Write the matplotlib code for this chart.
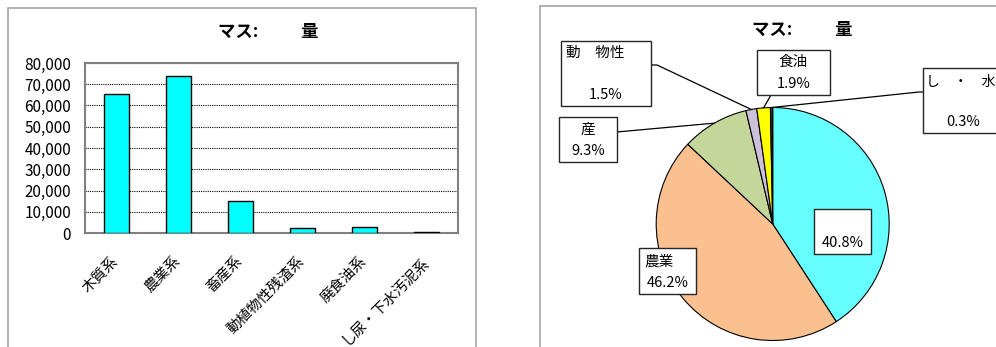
import numpy as np
import matplotlib
matplotlib.use('Agg')
import matplotlib.pyplot as plt
from matplotlib.patches import Rectangle
from matplotlib.lines import Line2D
from matplotlib.ticker import FuncFormatter

plt.rcParams['font.family'] = ['Noto Sans CJK JP', 'DejaVu Sans']

# data
categories = ['木質系', '農業系', '畜産系', '動植物性残渣系', '廃食油系', 'し尿・下水汚泥系']
values = [65300, 73900, 14900, 2400, 3000, 500]
pie_names = ['', '農業', '産', '動　物性', '食油', 'し　・　水']
pie_colors = ['#66FFFF', '#FAC090', '#C4D79B', '#CCC0DA', '#FFFF00', '#3D2B1F']
title = 'マス:　　  量'

W, H = 996, 347
fig = plt.figure(figsize=(W / 100, H / 100), dpi=100)


def fx(x):
    return x / W


def fy(y):
    return 1 - y / H


def box(x0, y0, x1, y1):
    fig.patches.append(Rectangle((fx(x0), fy(y1)), fx(x1) - fx(x0), fy(y0) - fy(y1),
                                 transform=fig.transFigure, fill=False,
                                 edgecolor='#A6A6A6', lw=1.2, zorder=0))


def line(pts, color='black', lw=0.9):
    fig.lines.append(Line2D([fx(p[0]) for p in pts], [fy(p[1]) for p in pts],
                            transform=fig.transFigure, color=color, lw=lw, zorder=5))


# panel frames
box(7.5, 7.5, 476, 360)
box(540, 5.5, 1010, 360)

# ---- bar chart ----
ax = fig.add_axes([fx(85), fy(233), fx(458) - fx(85), fy(63) - fy(233)])
x = np.arange(len(categories))
ax.bar(x, values, width=0.4, color='#00FFFF', edgecolor='black', lw=1.0, zorder=3)
ax.set_xlim(-0.5, len(categories) - 0.5)
ax.set_ylim(0, 80000)
ax.set_yticks(np.arange(0, 80001, 10000))
ax.yaxis.set_major_formatter(FuncFormatter(lambda v, p: '{:,.0f}'.format(v)))
ax.grid(axis='y', color='black', linestyle=(0, (1, 1)), lw=0.8, zorder=1)
ax.set_xticks(x)
ax.set_xticklabels(categories, rotation=45, ha='right', va='center',
                   rotation_mode='anchor', fontsize=10.5)
ax.tick_params(axis='x', length=0, pad=19)
ax.tick_params(axis='y', length=0, pad=10, labelsize=11)
for s in ax.spines.values():
    s.set_color('#808080')
    s.set_linewidth(1.5)
fig.text(fx(218), fy(32), title, fontsize=12.5, fontweight='bold', ha='left', va='center')

# ---- pie chart ----
cx, cy, r = 772.7, 224, 116.5
pax = fig.add_axes([fx(cx - r), fy(cy + r), fx(2 * r), fy(cy - r) - fy(cy + r)])
wedges, _ = pax.pie(values, colors=pie_colors, startangle=90, counterclock=False,
                    radius=1, wedgeprops=dict(edgecolor='black', lw=0.8))
pax.set_xlim(-1, 1)
pax.set_ylim(-1, 1)
pax.set_aspect('equal')
pax.axis('off')
fig.text(fx(752), fy(30), title, fontsize=12.5, fontweight='bold', ha='left', va='center')

total = sum(values)
pct = ['{:.1f}%'.format(100 * v / total) for v in values]


def edge_px(i):
    w = wedges[i]
    a = np.deg2rad((w.theta1 + w.theta2) / 2)
    px, py = pax.transData.transform((np.cos(a), np.sin(a)))
    return px, H - py


# label boxes
def label_box(x0, y0, x1, y1):
    fig.patches.append(Rectangle((fx(x0), fy(y1)), fx(x1) - fx(x0), fy(y0) - fy(y1),
                                 transform=fig.transFigure, facecolor='white',
                                 edgecolor='#262626', lw=1.0, zorder=6))


fs = 10.5
# wood
label_box(814, 209.3, 870.7, 254.3)
fig.text(fx(842.3), fy(243), pct[0], fontsize=fs, ha='center', va='center', zorder=7)
# agri
label_box(638.7, 248.3, 696, 294)
fig.text(fx(644), fy(262), pie_names[1], fontsize=fs, ha='left', va='center', zorder=7)
fig.text(fx(667.5), fy(283), pct[1], fontsize=fs, ha='center', va='center', zorder=7)
# livestock
label_box(559.3, 116.7, 616.7, 162.3)
fig.text(fx(588), fy(130), pie_names[2], fontsize=fs, ha='center', va='center', zorder=7)
fig.text(fx(588), fy(151), pct[2], fontsize=fs, ha='center', va='center', zorder=7)
line([(616.7, 132), edge_px(2)])
# animal/plant
label_box(560.7, 40.7, 650.7, 106)
fig.text(fx(566.5), fy(53), pie_names[3], fontsize=fs, ha='left', va='center', zorder=7)
fig.text(fx(606), fy(95), pct[3], fontsize=fs, ha='center', va='center', zorder=7)
line([(650.7, 65), (657, 65), edge_px(3)])
# oil
label_box(757.3, 50, 830, 95)
fig.text(fx(793.5), fy(62), pie_names[4], fontsize=fs, ha='center', va='center', zorder=7)
fig.text(fx(793.5), fy(83.5), pct[4], fontsize=fs, ha='center', va='center', zorder=7)
line([(771, 95), edge_px(4)])
# sewage
label_box(923.3, 68.3, 1010, 133.3)
fig.text(fx(926), fy(82), pie_names[5], fontsize=10, ha='left', va='center', zorder=7)
fig.text(fx(963), fy(122), pct[5], fontsize=fs, ha='center', va='center', zorder=7)
line([(923.3, 92), (919, 92), edge_px(5)])

fig.savefig('out.png', dpi=100)
